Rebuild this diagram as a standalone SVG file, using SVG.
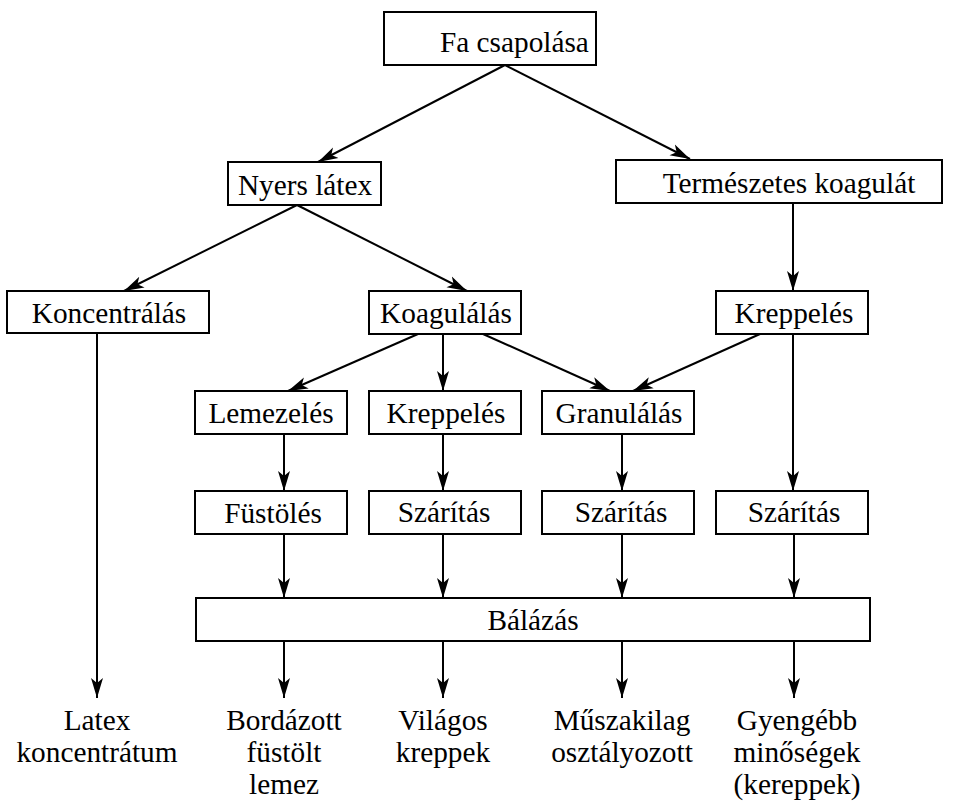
<svg xmlns="http://www.w3.org/2000/svg" width="957" height="803" viewBox="0 0 957 803">
<defs>
<style>
.box{fill:#fff;stroke:#000;stroke-width:2}
text{font-family:'Liberation Serif','DejaVu Serif',serif;font-size:29.3px;fill:#000;text-anchor:middle}
.c{fill:none;stroke:#000;stroke-width:2;marker-end:url(#ah)}
</style>
<marker id="ah" markerUnits="userSpaceOnUse" markerWidth="22" markerHeight="14" refX="20" refY="7" orient="auto">
<path d="M0,1 L20,7 L0,13 L5,7 Z" fill="#000"/>
</marker>
</defs>
<rect width="957" height="803" fill="#fff"/>
<g id="connectors">
<path class="c" d="M505,65 L318,162"/>
<path class="c" d="M505,65 L690,159"/>
<path class="c" d="M297,205 L124,291"/>
<path class="c" d="M297,205 L467,291"/>
<path class="c" d="M97,333 L97,698"/>
<path class="c" d="M418,334 L288,391"/>
<path class="c" d="M443,334 L443,391"/>
<path class="c" d="M483,334 L610,391"/>
<path class="c" d="M793,203 L793,291"/>
<path class="c" d="M760,334 L633,391"/>
<path class="c" d="M793,334 L793,491"/>
<path class="c" d="M284,434 L284,491"/>
<path class="c" d="M443,434 L443,491"/>
<path class="c" d="M622,434 L622,491"/>
<path class="c" d="M284,534 L284,598"/>
<path class="c" d="M443,534 L443,598"/>
<path class="c" d="M622,534 L622,598"/>
<path class="c" d="M794,534 L794,598"/>
<path class="c" d="M284,641 L284,698"/>
<path class="c" d="M443,641 L443,698"/>
<path class="c" d="M622,641 L622,698"/>
<path class="c" d="M794,641 L794,698"/>
</g>
<g font-family="Liberation Serif, DejaVu Serif, serif" font-size="29.3" text-anchor="middle">
<g id="fa-csapolasa"><rect class="box" x="384" y="12" width="212" height="53"/><text x="440" y="52" text-anchor="start" style="text-anchor:start">Fa csapolása</text></g>
<g id="nyers-latex"><rect class="box" x="228" y="162" width="153" height="43"/><text x="305" y="195">Nyers látex</text></g>
<g id="termeszetes-koagulat"><rect class="box" x="616" y="160" width="326" height="43"/><text x="789" y="193">Természetes koagulát</text></g>
<g id="koncentralas"><rect class="box" x="7" y="291" width="202" height="42"/><text x="109" y="323">Koncentrálás</text></g>
<g id="koagulalas"><rect class="box" x="369" y="291" width="152" height="43"/><text x="446" y="323">Koagulálás</text></g>
<g id="kreppeles-r"><rect class="box" x="716" y="291" width="152" height="43"/><text x="794" y="323">Kreppelés</text></g>
<g id="lemezeles"><rect class="box" x="195" y="391" width="152" height="43"/><text x="271" y="423">Lemezelés</text></g>
<g id="kreppeles-m"><rect class="box" x="369" y="391" width="152" height="43"/><text x="446" y="423">Kreppelés</text></g>
<g id="granulalas"><rect class="box" x="542" y="391" width="152" height="43"/><text x="619" y="423">Granulálás</text></g>
<g id="fustoles"><rect class="box" x="195" y="491" width="152" height="43"/><text x="273" y="523">Füstölés</text></g>
<g id="szaritas-2"><rect class="box" x="369" y="491" width="152" height="43"/><text x="444" y="522">Szárítás</text></g>
<g id="szaritas-3"><rect class="box" x="542" y="491" width="152" height="43"/><text x="621" y="522">Szárítás</text></g>
<g id="szaritas-4"><rect class="box" x="716" y="491" width="152" height="43"/><text x="794" y="522">Szárítás</text></g>
<g id="balazas"><rect class="box" x="196" y="598" width="674" height="43"/><text x="533" y="630">Bálázás</text></g>
<g id="latex-koncentratum"><text x="97" y="730">Latex</text><text x="97" y="762">koncentrátum</text></g>
<g id="bordazott"><text x="284" y="730">Bordázott</text><text x="284" y="762">füstölt</text><text x="284" y="794">lemez</text></g>
<g id="vilagos"><text x="443" y="730">Világos</text><text x="443" y="762">kreppek</text></g>
<g id="muszakilag"><text x="622" y="730">Műszakilag</text><text x="622" y="762">osztályozott</text></g>
<g id="gyengebb"><text x="797" y="730">Gyengébb</text><text x="797" y="762">minőségek</text><text x="797" y="794">(kereppek)</text></g>
</g>
</svg>
